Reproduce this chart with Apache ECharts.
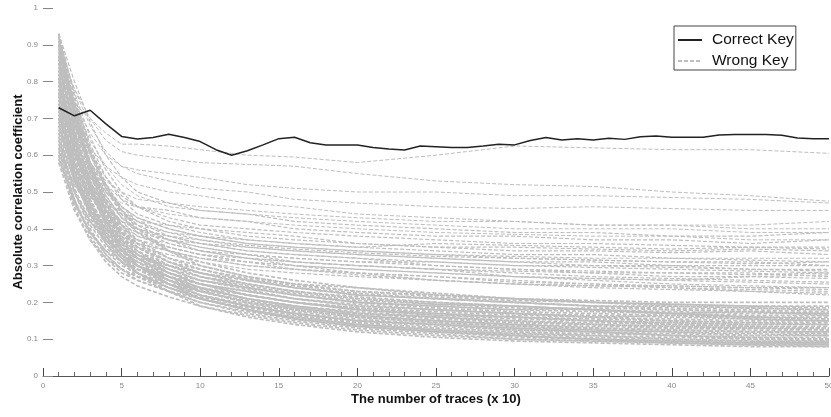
<!DOCTYPE html>
<html>
<head>
<meta charset="utf-8">
<script src="https://cdn.jsdelivr.net/npm/echarts@6/dist/echarts.min.js"></script>
<style>html,body{margin:0;padding:0;background:#fff}#c{width:831px;height:417px}</style>
</head>
<body>
<div id="c"></div>
<script>
// ---- data ----
const correctTraces = [1,2,3,4,5,6,7,8,9,10,11,12,13,14,15,16,17,18,19,20,21,22,23,24,25,26,27,28,29,30,31,32,33,34,35,36,37,38,39,40,41,42,43,44,45,46,47,48,49,50];
const correctKey = [0.729,0.707,0.722,0.685,0.651,0.644,0.648,0.657,0.648,0.637,0.615,0.600,0.612,0.628,0.645,0.649,0.634,0.628,0.628,0.628,0.621,0.617,0.614,0.625,0.623,0.621,0.621,0.625,0.630,0.628,0.640,0.648,0.641,0.645,0.641,0.646,0.643,0.650,0.652,0.649,0.649,0.649,0.655,0.656,0.656,0.656,0.654,0.647,0.645,0.645];

const wrongTraces = [1,2,3,4,5,6,8,10,13,16,20,25,30,35,40,45,50];
const wrongUpper = [
  [0.80,0.74,0.70,0.66,0.63,0.63,0.625,0.615,0.60,0.595,0.58,0.60,0.625,0.62,0.615,0.615,0.605],
  [0.88,0.78,0.70,0.64,0.61,0.60,0.59,0.58,0.575,0.57,0.55,0.53,0.52,0.515,0.50,0.49,0.475],
  [0.85,0.74,0.66,0.60,0.57,0.56,0.55,0.54,0.52,0.51,0.50,0.50,0.49,0.49,0.485,0.48,0.47],
  [0.90,0.78,0.68,0.61,0.57,0.55,0.53,0.51,0.50,0.48,0.47,0.46,0.455,0.46,0.455,0.45,0.45],
  [0.82,0.70,0.62,0.57,0.54,0.52,0.50,0.49,0.47,0.46,0.44,0.43,0.42,0.41,0.41,0.40,0.40],
  [0.75,0.65,0.58,0.53,0.50,0.48,0.47,0.46,0.45,0.44,0.43,0.42,0.42,0.41,0.41,0.41,0.42],
  [0.87,0.74,0.64,0.57,0.52,0.49,0.46,0.45,0.44,0.43,0.42,0.41,0.40,0.40,0.40,0.39,0.39],
  [0.69,0.60,0.54,0.50,0.47,0.46,0.44,0.43,0.42,0.41,0.40,0.39,0.385,0.38,0.38,0.37,0.37]
];
const wrongMiddle = [
  [0.93,0.80,0.69,0.60,0.54,0.50,0.47,0.45,0.44,0.42,0.41,0.40,0.39,0.39,0.38,0.38,0.39],
  [0.78,0.66,0.58,0.52,0.48,0.46,0.45,0.43,0.42,0.40,0.39,0.38,0.38,0.37,0.37,0.36,0.37],
  [0.86,0.72,0.61,0.54,0.49,0.46,0.43,0.41,0.40,0.39,0.38,0.37,0.36,0.36,0.355,0.35,0.35],
  [0.70,0.60,0.52,0.47,0.44,0.42,0.41,0.40,0.39,0.38,0.36,0.35,0.34,0.34,0.335,0.34,0.33],
  [0.90,0.75,0.63,0.54,0.48,0.44,0.41,0.39,0.37,0.36,0.35,0.34,0.33,0.33,0.32,0.32,0.32],
  [0.74,0.62,0.54,0.48,0.44,0.41,0.39,0.38,0.36,0.35,0.34,0.33,0.32,0.315,0.31,0.31,0.30],
  [0.83,0.69,0.58,0.50,0.45,0.42,0.39,0.37,0.35,0.34,0.33,0.32,0.31,0.30,0.30,0.29,0.29],
  [0.66,0.56,0.49,0.44,0.41,0.39,0.37,0.36,0.34,0.33,0.32,0.31,0.30,0.295,0.29,0.285,0.28],
  [0.88,0.72,0.60,0.52,0.46,0.42,0.38,0.36,0.34,0.33,0.32,0.30,0.29,0.285,0.28,0.28,0.27],
  [0.72,0.60,0.51,0.45,0.41,0.38,0.36,0.34,0.33,0.32,0.31,0.30,0.29,0.28,0.27,0.27,0.265],
  [0.80,0.66,0.55,0.48,0.43,0.40,0.37,0.35,0.33,0.31,0.30,0.29,0.28,0.27,0.265,0.26,0.255],
  [0.62,0.52,0.46,0.42,0.39,0.37,0.35,0.33,0.32,0.31,0.30,0.29,0.27,0.265,0.26,0.255,0.25],
  [0.91,0.74,0.61,0.52,0.45,0.41,0.37,0.34,0.32,0.30,0.29,0.28,0.27,0.26,0.25,0.245,0.24],
  [0.76,0.62,0.52,0.45,0.40,0.37,0.34,0.32,0.31,0.30,0.28,0.27,0.26,0.25,0.245,0.24,0.235],
  [0.68,0.57,0.49,0.43,0.39,0.36,0.34,0.32,0.30,0.29,0.28,0.27,0.255,0.25,0.24,0.235,0.23],
  [0.85,0.70,0.58,0.49,0.43,0.39,0.35,0.33,0.31,0.29,0.28,0.26,0.25,0.245,0.24,0.23,0.225],
  [0.64,0.54,0.46,0.41,0.38,0.36,0.34,0.32,0.30,0.29,0.275,0.26,0.25,0.24,0.235,0.23,0.22],
  [0.79,0.65,0.54,0.47,0.42,0.38,0.35,0.33,0.31,0.30,0.29,0.28,0.27,0.265,0.26,0.27,0.275],
  [0.92,0.77,0.65,0.56,0.50,0.46,0.42,0.40,0.38,0.37,0.36,0.35,0.35,0.345,0.34,0.345,0.34],
  [0.71,0.60,0.52,0.46,0.42,0.40,0.38,0.36,0.35,0.34,0.33,0.32,0.31,0.31,0.30,0.30,0.30],
  [0.84,0.69,0.57,0.49,0.43,0.40,0.36,0.34,0.32,0.31,0.30,0.29,0.285,0.28,0.28,0.275,0.28],
  [0.61,0.52,0.45,0.40,0.37,0.35,0.33,0.31,0.29,0.28,0.27,0.26,0.25,0.245,0.245,0.24,0.24],
  [0.89,0.73,0.60,0.51,0.45,0.41,0.37,0.35,0.33,0.32,0.31,0.31,0.30,0.30,0.295,0.29,0.285],
  [0.73,0.63,0.56,0.50,0.46,0.43,0.40,0.38,0.36,0.35,0.34,0.33,0.325,0.32,0.32,0.315,0.31],
  [0.81,0.68,0.58,0.51,0.46,0.43,0.40,0.38,0.37,0.36,0.35,0.36,0.355,0.35,0.345,0.35,0.345],
  [0.67,0.57,0.50,0.45,0.42,0.40,0.38,0.37,0.355,0.345,0.335,0.325,0.32,0.315,0.31,0.305,0.31]
];
const wrongLower = [
  [0.93,0.76,0.62,0.52,0.45,0.40,0.34,0.30,0.27,0.25,0.23,0.22,0.21,0.205,0.20,0.20,0.20],
  [0.70,0.58,0.49,0.43,0.39,0.36,0.32,0.30,0.27,0.25,0.24,0.22,0.21,0.20,0.195,0.19,0.19],
  [0.84,0.68,0.56,0.47,0.41,0.37,0.32,0.29,0.26,0.24,0.22,0.21,0.20,0.19,0.19,0.185,0.18],
  [0.62,0.50,0.42,0.37,0.34,0.32,0.30,0.28,0.26,0.24,0.22,0.21,0.20,0.19,0.185,0.18,0.175],
  [0.90,0.72,0.58,0.48,0.41,0.36,0.31,0.28,0.25,0.23,0.21,0.20,0.19,0.18,0.175,0.17,0.17],
  [0.76,0.61,0.50,0.42,0.37,0.34,0.30,0.27,0.25,0.23,0.21,0.195,0.185,0.18,0.17,0.165,0.165],
  [0.66,0.53,0.44,0.38,0.34,0.31,0.28,0.26,0.24,0.22,0.20,0.19,0.18,0.175,0.17,0.16,0.16],
  [0.87,0.69,0.55,0.45,0.38,0.34,0.29,0.26,0.24,0.22,0.20,0.185,0.175,0.17,0.165,0.16,0.155],
  [0.73,0.58,0.47,0.40,0.35,0.32,0.28,0.25,0.23,0.21,0.195,0.18,0.17,0.165,0.16,0.155,0.15],
  [0.60,0.47,0.39,0.34,0.31,0.29,0.27,0.25,0.23,0.21,0.19,0.18,0.17,0.16,0.155,0.15,0.15],
  [0.81,0.64,0.51,0.42,0.36,0.32,0.28,0.25,0.22,0.20,0.185,0.175,0.165,0.16,0.15,0.145,0.145],
  [0.68,0.54,0.44,0.37,0.33,0.30,0.27,0.24,0.22,0.20,0.18,0.17,0.16,0.155,0.15,0.145,0.14],
  [0.92,0.72,0.57,0.46,0.38,0.33,0.28,0.25,0.22,0.20,0.18,0.165,0.155,0.15,0.145,0.14,0.14],
  [0.78,0.61,0.48,0.40,0.34,0.31,0.27,0.24,0.21,0.19,0.175,0.16,0.15,0.145,0.14,0.135,0.135],
  [0.64,0.50,0.41,0.35,0.31,0.29,0.26,0.235,0.21,0.19,0.17,0.16,0.15,0.14,0.135,0.13,0.13],
  [0.85,0.67,0.53,0.43,0.36,0.32,0.27,0.24,0.21,0.19,0.17,0.155,0.145,0.14,0.13,0.13,0.125],
  [0.71,0.56,0.45,0.38,0.33,0.30,0.26,0.23,0.205,0.185,0.165,0.15,0.14,0.135,0.13,0.125,0.12],
  [0.58,0.45,0.37,0.32,0.29,0.27,0.25,0.23,0.20,0.18,0.16,0.15,0.14,0.13,0.125,0.12,0.12],
  [0.89,0.70,0.55,0.44,0.37,0.32,0.27,0.23,0.20,0.18,0.16,0.145,0.135,0.13,0.125,0.12,0.115],
  [0.74,0.58,0.46,0.38,0.33,0.29,0.25,0.22,0.195,0.175,0.155,0.14,0.13,0.125,0.12,0.115,0.11],
  [0.62,0.48,0.39,0.33,0.29,0.27,0.24,0.215,0.19,0.17,0.15,0.14,0.13,0.12,0.115,0.11,0.11],
  [0.82,0.64,0.50,0.41,0.34,0.30,0.25,0.22,0.19,0.17,0.15,0.135,0.125,0.12,0.11,0.105,0.105],
  [0.69,0.54,0.43,0.36,0.31,0.28,0.24,0.21,0.185,0.165,0.145,0.13,0.12,0.115,0.11,0.10,0.10],
  [0.91,0.71,0.56,0.45,0.37,0.31,0.26,0.22,0.19,0.165,0.145,0.13,0.12,0.11,0.105,0.10,0.095],
  [0.77,0.60,0.47,0.38,0.32,0.28,0.24,0.21,0.18,0.16,0.14,0.125,0.115,0.105,0.10,0.095,0.09],
  [0.65,0.50,0.40,0.33,0.29,0.26,0.23,0.20,0.175,0.155,0.135,0.12,0.11,0.10,0.095,0.09,0.09],
  [0.86,0.66,0.52,0.42,0.35,0.30,0.25,0.21,0.18,0.155,0.135,0.12,0.105,0.10,0.095,0.09,0.085],
  [0.72,0.56,0.44,0.36,0.31,0.27,0.23,0.20,0.17,0.15,0.13,0.115,0.10,0.095,0.09,0.085,0.085],
  [0.60,0.46,0.37,0.31,0.27,0.245,0.215,0.19,0.165,0.145,0.125,0.11,0.10,0.095,0.09,0.085,0.08],
  [0.80,0.62,0.48,0.39,0.33,0.28,0.23,0.19,0.16,0.14,0.12,0.105,0.095,0.09,0.085,0.08,0.08],
  [0.88,0.71,0.57,0.47,0.40,0.35,0.30,0.27,0.24,0.22,0.20,0.19,0.18,0.185,0.18,0.175,0.17],
  [0.67,0.55,0.46,0.40,0.36,0.33,0.29,0.27,0.245,0.225,0.205,0.195,0.19,0.18,0.17,0.175,0.165],
  [0.79,0.63,0.51,0.43,0.37,0.33,0.29,0.26,0.235,0.21,0.19,0.18,0.17,0.16,0.165,0.155,0.15],
  [0.63,0.51,0.42,0.36,0.32,0.30,0.27,0.25,0.22,0.20,0.185,0.17,0.16,0.15,0.145,0.14,0.14],
  [0.93,0.73,0.58,0.47,0.39,0.34,0.28,0.25,0.22,0.20,0.18,0.165,0.16,0.15,0.14,0.135,0.13],
  [0.75,0.59,0.47,0.39,0.34,0.30,0.26,0.24,0.21,0.19,0.17,0.16,0.145,0.14,0.135,0.13,0.125],
  [0.59,0.47,0.39,0.34,0.30,0.28,0.25,0.23,0.20,0.185,0.165,0.15,0.14,0.13,0.125,0.12,0.115],
  [0.83,0.65,0.51,0.41,0.35,0.30,0.26,0.23,0.20,0.18,0.16,0.145,0.135,0.125,0.12,0.11,0.11],
  [0.70,0.55,0.44,0.37,0.32,0.29,0.25,0.22,0.19,0.17,0.15,0.14,0.125,0.12,0.11,0.105,0.10],
  [0.61,0.48,0.38,0.32,0.28,0.26,0.23,0.21,0.18,0.16,0.14,0.125,0.115,0.11,0.10,0.095,0.095],
  [0.87,0.67,0.52,0.42,0.35,0.30,0.25,0.21,0.18,0.16,0.14,0.125,0.11,0.10,0.095,0.09,0.09],
  [0.73,0.57,0.45,0.37,0.32,0.28,0.24,0.21,0.18,0.155,0.135,0.12,0.11,0.10,0.09,0.085,0.085],
  [0.81,0.65,0.53,0.45,0.39,0.35,0.31,0.28,0.25,0.23,0.215,0.20,0.19,0.18,0.17,0.16,0.155],
  [0.65,0.53,0.45,0.39,0.35,0.33,0.30,0.28,0.26,0.24,0.225,0.21,0.20,0.19,0.18,0.175,0.17],
  [0.90,0.74,0.61,0.51,0.44,0.39,0.34,0.31,0.28,0.26,0.24,0.225,0.21,0.20,0.195,0.19,0.185],
  [0.77,0.62,0.51,0.44,0.39,0.35,0.31,0.29,0.265,0.245,0.23,0.215,0.205,0.20,0.19,0.185,0.18]
];
const yTicks = ['0','0.1','0.2','0.3','0.4','0.5','0.6','0.7','0.8','0.9','1'];

// ---- chart ----
const chart = echarts.init(document.getElementById('c'));
const gray = '#bebebe';
const series = [];
function addWrong(rows, width) {
  rows.forEach(row => {
    series.push({
      name: 'Wrong Key', type: 'line', symbol: 'none', silent: true, z: 2,
      lineStyle: {color: gray, width: width, type: [4, 2]},
      itemStyle: {color: gray},
      data: wrongTraces.map((x, i) => [x, row[i]])
    });
  });
}
addWrong(wrongUpper, 1);
addWrong(wrongMiddle, 1.2);
addWrong(wrongLower, 1.7);
series.push({
  name: 'Correct Key', type: 'line', symbol: 'none', z: 5,
  lineStyle: {color: '#222', width: 1.5, type: 'solid'},
  itemStyle: {color: '#222'},
  data: correctTraces.map((x, i) => [x, correctKey[i]])
});

chart.setOption({
  animation: false,
  backgroundColor: '#fff',
  grid: {left: 43, right: 2, top: 8, bottom: 41, containLabel: false, outerBoundsMode: 'none'},
  legend: {
    data: ['Correct Key', 'Wrong Key'],
    orient: 'vertical', left: 674, top: 26,
    padding: [5, 2, 0, 3],
    itemGap: 3, itemWidth: 24, itemHeight: 14,
    borderColor: '#444', borderWidth: 1,
    backgroundColor: '#fff',
    itemStyle: {opacity: 0},
    textStyle: {fontFamily: 'Liberation Sans, Arial', fontSize: 15.5, lineHeight: 18, color: '#111', padding: [0, 0, 0, 5]}
  },
  xAxis: {
    type: 'value', min: 0, max: 50, interval: 5,
    name: 'The number of traces (x 10)', nameLocation: 'middle', nameGap: 17, nameMoveOverlap: false,
    nameTextStyle: {fontFamily: 'Liberation Sans, Arial', fontWeight: 'bold', fontSize: 13, color: '#111'},
    axisLine: {show: true, lineStyle: {color: '#555', width: 1}},
    axisTick: {show: true, inside: true, length: 8, lineStyle: {color: '#444'}},
    minorTick: {show: true, splitNumber: 5, length: 4, lineStyle: {color: '#666'}},
    axisLabel: {fontSize: 8, color: '#888', margin: 6, fontFamily: 'Liberation Sans, Arial'},
    splitLine: {show: false}
  },
  yAxis: {
    type: 'value', min: 0, max: 1, interval: 0.1,
    name: 'Absolute correlation coefficient', nameLocation: 'middle', nameGap: 18, nameMoveOverlap: false,
    nameTextStyle: {fontFamily: 'Liberation Sans, Arial', fontWeight: 'bold', fontSize: 13, color: '#111'},
    axisLine: {show: false},
    axisTick: {show: true, inside: true, length: 10, lineStyle: {color: '#888'}},
    axisLabel: {fontSize: 8, color: '#888', margin: 5, fontFamily: 'Liberation Sans, Arial',
      formatter: (v) => yTicks[Math.round(v * 10)]},
    splitLine: {show: false}
  },
  series: series
});
</script>
</body>
</html>
